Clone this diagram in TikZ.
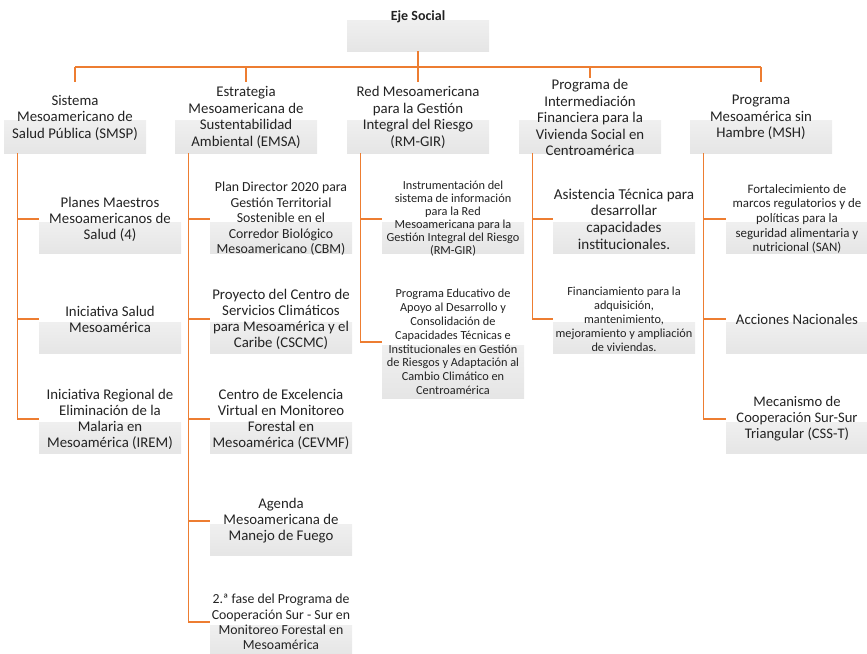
\documentclass[tikz,border=0pt]{standalone}
\usepackage{fontspec}
\setmainfont{Carlito}
\definecolor{ln}{RGB}{237,125,49}
\definecolor{tx}{RGB}{35,35,35}
\newcommand\obox[6]{%
  \node[box,minimum height=#3] (#1) at (#2) {};
  \node[txt,font=\fontsize{#4}{#5}\selectfont] (#1t) at (#1) {#6};}
\begin{document}
\begin{tikzpicture}[x=1pt,y=-1pt,
  box/.style={minimum width=142pt, minimum height=68pt, inner sep=0pt, fill=white,
    path picture={\shade[top color=gray!3, bottom color=gray!20]
      ([yshift=-3pt]path picture bounding box.west) rectangle (path picture bounding box.south east);}},
  txt/.style={align=center, inner sep=1pt, text=tx},
  conn/.style={draw=ln, line width=1.3pt}]
\useasboundingbox (0,0) rectangle (867,653);
\clip (0,0) rectangle (867,653);
% root
\obox{root}{418,17}{68pt}{14}{17}{\bfseries Eje Social}
% level 1
\obox{p1}{75,117.5}{71pt}{14.8}{16.5}{Sistema\\Mesoamericano de\\Salud Pública (SMSP)}
\obox{p2}{246,117.5}{71pt}{14.8}{16.5}{Estrategia\\Mesoamericana de\\Sustentabilidad\\Ambiental (EMSA)}
\obox{p3}{418,117.5}{71pt}{14.8}{16.5}{Red Mesoamericana\\para la Gestión\\Integral del Riesgo\\(RM-GIR)}
\obox{p4}{590,117.5}{71pt}{14.8}{16.5}{Programa de\\Intermediación\\Financiera para la\\Vivienda Social en\\Centroamérica}
\obox{p5}{761,117.5}{71pt}{14.8}{16.5}{Programa\\Mesoamérica sin\\Hambre (MSH)}
% SMSP
\obox{a1}{110,219}{68pt}{14.8}{16}{Planes Maestros\\Mesoamericanos de\\Salud (4)}
\obox{a2}{110,319}{68pt}{14.8}{16}{Iniciativa Salud\\Mesoamérica}
\obox{a3}{110,419}{68pt}{14.8}{16}{Iniciativa Regional de\\Eliminación de la\\Malaria en\\Mesoamérica (IREM)}
% EMSA
\obox{b1}{281,219}{68pt}{13.8}{15.5}{Plan Director 2020 para\\Gestión Territorial\\Sostenible en el\\Corredor Biológico\\Mesoamericano (CBM)}
\obox{b2}{281,319}{68pt}{14.8}{16}{Proyecto del Centro de\\Servicios Climáticos\\para Mesoamérica y el\\Caribe (CSCMC)}
\obox{b3}{281,419}{68pt}{14.8}{16}{Centro de Excelencia\\Virtual en Monitoreo\\Forestal en\\Mesoamérica (CEVMF)}
\obox{b4}{281,521}{68pt}{14.8}{16}{Agenda\\Mesoamericana de\\Manejo de Fuego}
\obox{b5}{281,622}{68pt}{13.8}{15.3}{2.ª fase del Programa de\\Cooperación Sur - Sur en\\Monitoreo Forestal en\\Mesoamérica}
% RM-GIR
\obox{c1}{453,219}{68pt}{12.3}{13}{Instrumentación del\\sistema de información\\para la Red\\Mesoamericana para la\\Gestión Integral del Riesgo\\(RM-GIR)}
\obox{c2}{453,342}{112pt}{12.3}{13.8}{Programa Educativo de\\Apoyo al Desarrollo y\\Consolidación de\\Capacidades Técnicas e\\Institucionales en Gestión\\de Riesgos y Adaptación al\\Cambio Climático en\\Centroamérica}
% Vivienda
\obox{d1}{624,219}{68pt}{15.1}{16.7}{Asistencia Técnica para\\desarrollar\\capacidades\\institucionales.}
\obox{d2}{624,319}{68pt}{12.3}{14}{Financiamiento para la\\adquisición,\\mantenimiento,\\mejoramiento y ampliación\\de viviendas.}
% MSH
\obox{e1}{797,219}{68pt}{12.9}{14.7}{Fortalecimiento de\\marcos regulatorios y de\\políticas para la\\seguridad alimentaria y\\nutricional (SAN)}
\obox{e2}{797,319}{68pt}{14.8}{16}{Acciones Nacionales}
\obox{e3}{797,419}{68pt}{14.6}{16}{Mecanismo de\\Cooperación Sur-Sur\\Triangular (CSS-T)}
% connectors top
\coordinate (bus) at (418,67);
\draw[conn] (root.south) -- (root.south |- bus);
\draw[conn] (p1.north |- bus) -- (p5.north |- bus);
\draw[conn] (p1.north |- bus) -- (p1.north);
\draw[conn] (p2.north |- bus) -- (p2.north);
\draw[conn] (p3.north |- bus) -- (p3.north);
\draw[conn] (p4.north |- bus) -- (p4t.north);
\draw[conn] (p5.north |- bus) -- (p5.north);
% connectors children
\foreach \c in {a1,a2,a3} \draw[conn] ([xshift=14pt]p1.south west) |- (\c.west);
\foreach \c in {b1,b2,b3,b4,b5} \draw[conn] ([xshift=14pt]p2.south west) |- (\c.west);
\foreach \c in {c1,c2} \draw[conn] ([xshift=14pt]p3.south west) |- (\c.west);
\foreach \c in {d1,d2} \draw[conn] ([xshift=14pt]p4.south west) |- (\c.west);
\foreach \c in {e1,e2,e3} \draw[conn] ([xshift=14pt]p5.south west) |- (\c.west);
\end{tikzpicture}
\end{document}
